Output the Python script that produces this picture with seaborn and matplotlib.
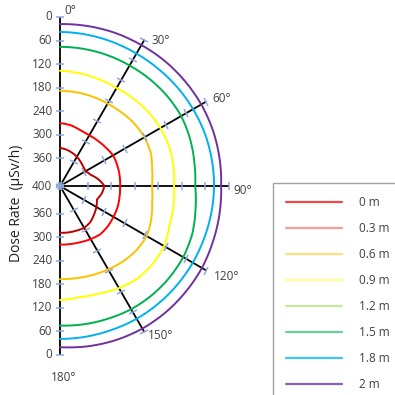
import numpy as np
import pandas as pd
import matplotlib
matplotlib.use("Agg")
import matplotlib.pyplot as plt
import seaborn as sns
from matplotlib.markers import MarkerStyle
from matplotlib.transforms import Affine2D
from matplotlib.lines import Line2D

# ---------------- data ----------------
angles_deg = [0, 10, 20, 30, 40, 50, 60, 70, 80, 90, 100, 110, 120, 130, 140, 150, 160, 170, 180]

dose_0m  = [333, 336, 340, 344, 349, 353, 355, 347, 331, 317, 322, 330, 323, 317, 310, 307, 309, 310, 311]
dose_03m = [270, 273, 279, 281, 280, 278, 274, 275, 276, 277, 276, 274, 273, 271, 270, 274, 278, 280, 281]
dose_06m = [188, 188, 188, 188, 186, 183, 182, 184, 192, 196, 192, 183, 175, 176, 180, 185, 189, 192, 193]
dose_09m = [137, 139, 141, 142, 140, 137, 135, 135, 137, 140, 137, 134, 124, 122, 123, 130, 139, 143, 140]
dose_15m = [76, 76, 76, 76, 75, 74, 74, 78, 83, 86, 80, 72, 68, 67, 67, 68, 71, 73, 75]
dose_18m = [38, 39, 40, 41, 41, 40, 39, 38, 38, 38, 39, 40, 40, 40, 40, 40, 41, 41, 41]
dose_2m  = [18, 17, 16, 16, 15, 15, 15, 16, 18, 20, 18, 16, 13, 12, 11, 11, 13, 16, 20]

curve_names = ["0 m", "0.3 m", "0.6 m", "0.9 m", "1.5 m", "1.8 m", "2 m"]
curve_values = [dose_0m, dose_03m, dose_06m, dose_09m, dose_15m, dose_18m, dose_2m]
curve_colors = ["#C00000", "#FF0000", "#FFC000", "#FFFF00", "#00B050", "#00B0F0", "#7030A0"]

legend_labels = ["0 m", "0.3 m", "0.6 m", "0.9 m", "1.2 m", "1.5 m", "1.8 m", "2 m"]
legend_colors = ["#EE4B4E", "#F59C9C", "#FFDF80", "#FFFF8C", "#C6EA9A", "#6BCF9B", "#3FC6F6", "#8F5FC0"]

spoke_angles = [0, 30, 60, 90, 120, 150, 180]
spoke_labels = ["0°", "30°", "60°", "90°", "120°", "150°", "180°"]
spoke_label_offsets = [(3, 4.5), (5, -0.7), (4.3, 2.2), (3, -3), (5.5, -4.5), (2.5, -2.6), (2.5, -16)]
spoke_label_ha = ["left", "left", "left", "left", "left", "left", "center"]

radial_ticks = [0, 60, 120, 180, 240, 300, 360]
radial_tick_labels = ["0", "60", "120", "180", "240", "300", "360"]
center_value = 430
center_label = "400"

y_title = "Dose Rate  (μSv/h)"

# ---------------- style ----------------
sns.set_style("white")
plt.rcParams["font.family"] = ["Open Sans", "DejaVu Sans"]

W = H = 395
fig = plt.figure(figsize=(W / 100, H / 100), dpi=100)
cx, cy, R = 60 / W, 1 - 186 / H, 169 / W
ax = fig.add_axes([cx - R, cy - R, 2 * R, 2 * R], projection="polar")
ax.set_theta_zero_location("N")
ax.set_theta_direction(-1)
ax.set_ylim(center_value, 0)
ax.patch.set_visible(False)
ax.spines["polar"].set_visible(False)
ax.set_xticks(np.deg2rad(spoke_angles))
ax.set_xticklabels([])
ax.set_yticks([])
ax.tick_params(length=0)
ax.xaxis.grid(True, color="black", lw=1.3)
ax.yaxis.grid(False)

# ---------------- curves ----------------
rows = []
for name, vals in zip(curve_names, curve_values):
    for a, v in zip(angles_deg, vals):
        rows.append({"theta": np.deg2rad(a), "dose": v, "distance": name})
df = pd.DataFrame(rows)
sns.lineplot(data=df, x="theta", y="dose", hue="distance", hue_order=curve_names,
             palette=dict(zip(curve_names, curve_colors)), sort=False, estimator=None,
             legend=False, ax=ax, lw=1.4, zorder=3)
ax.set_xlabel("")
ax.set_ylabel("")
# let the polar projection draw each segment as a curve in (theta, r) space
for ln in ax.lines:
    ln.get_path()._interpolation_steps = 40

# ---------------- spoke ticks ----------------
tick_pos = radial_ticks + [center_value]
for a in spoke_angles:
    ms = MarkerStyle("_", transform=Affine2D().rotate_deg(-a))
    ax.plot([np.deg2rad(a)] * len(tick_pos), tick_pos, ls="none", marker=ms,
            ms=6, mew=1.1, color="#8EA9DB", zorder=4, clip_on=False)

# ---------------- radial labels ----------------
txt = "#404040"
for v, lab in zip(radial_ticks, radial_tick_labels):
    for a in (0, 180):
        ax.annotate(lab, xy=(np.deg2rad(a), v), xytext=(-5.5, 0), textcoords="offset points",
                    ha="right", va="center", fontsize=8.5, color=txt, annotation_clip=False)
ax.annotate(center_label, xy=(0, center_value), xytext=(-5.5, 0), textcoords="offset points",
            ha="right", va="center", fontsize=8.5, color=txt, annotation_clip=False)

# ---------------- angle labels ----------------
for a, lab, off, ha in zip(spoke_angles, spoke_labels, spoke_label_offsets, spoke_label_ha):
    ax.annotate(lab, xy=(np.deg2rad(a), 0), xytext=off, textcoords="offset points",
                ha=ha, va="center", fontsize=8.5, color=txt, annotation_clip=False)

fig.text(17 / W, 1 - 203 / H, y_title, rotation=90, ha="center", va="center",
         fontsize=10, color="#202020")

# ---------------- legend ----------------
handles = [Line2D([], [], color=c, lw=1.6) for c in legend_colors]
leg = fig.legend(handles, legend_labels, loc="upper left",
                 bbox_to_anchor=(273 / W, 1 - 183 / H), borderaxespad=0,
                 frameon=True, fancybox=False, edgecolor="#8C8C8C",
                 fontsize=8.5, handlelength=4.7, handletextpad=1.5,
                 labelspacing=1.1, borderpad=1.12)
leg.get_frame().set_linewidth(1.0)
for t in leg.get_texts():
    t.set_color(txt)

fig.savefig("out.png", dpi=100, facecolor="white")
